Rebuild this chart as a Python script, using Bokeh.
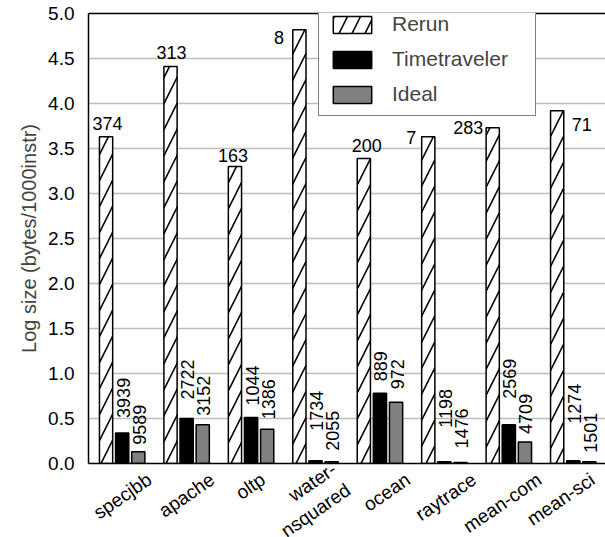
import math
import numpy as np
from bokeh.plotting import figure
from bokeh.models import (Range1d, FixedTicker, LinearAxis, ColumnDataSource,
                          Legend, LegendItem, PrintfTickFormatter)
from bokeh.core.properties import value
from bokeh.embed import file_html
from bokeh.resources import INLINE

# ---------------- data ----------------
categories = ["specjbb", "apache", "oltp", "water-\nnsquared", "ocean",
              "raytrace", "mean-com", "mean-sci"]
rerun = [3.63, 4.41, 3.30, 4.82, 3.39, 3.63, 3.73, 3.92]
timetraveler = [0.34, 0.50, 0.51, 0.03, 0.78, 0.02, 0.43, 0.03]
ideal = [0.13, 0.43, 0.38, 0.02, 0.68, 0.01, 0.24, 0.02]
rerun_labels = ["374", "313", "163", "8", "200", "7", "283", "71"]
tt_labels = ["3939", "2722", "1044", "1734", "889", "1198", "2569", "1274"]
ideal_labels = ["9589", "3152", "1386", "2055", "972", "1476", "4709", "1501"]
y_ticks = [0.0, 0.5, 1.0, 1.5, 2.0, 2.5, 3.0, 3.5, 4.0, 4.5, 5.0]

# ---------------- style ----------------
FONT = "Liberation Sans"
SLOTS = 4
BAR_W = 0.82
rerun_dx = [1.5, 1, -2, -15.5, 3, -12, -9.5, 14.5]
rerun_dy = [-13, -14, -11, 8, -13, 1, 0, 14]
rerun_align = ["center", "center", "center", "right", "center", "right", "right", "left"]
tt_gap = [15, 19, 12, 30, 12, 34, 26, 37]
ideal_gap = [7, 9, 10, 11, 13, 14, 8, 9]
label_anchor = [2.7, 2.6, 1.75, 2.6, 2.75, 2.85, 2.9, 2.2]

n = len(categories)
idx = np.arange(n)
x_rerun = idx * SLOTS + 0
x_tt = idx * SLOTS + 1
x_ideal = idx * SLOTS + 2

p = figure(frame_width=517, frame_height=450,
           x_range=Range1d(-1.09, SLOTS * n - 1), y_range=Range1d(0, 5),
           output_backend="svg", toolbar_location=None,
           min_border_left=88, min_border_right=0, min_border_top=13,
           min_border_bottom=74)
p.outline_line_color = None
p.background_fill_color = "white"

# grid
p.xgrid.grid_line_color = None
p.ygrid.grid_line_color = "#bdbdbd"
p.ygrid.grid_line_width = 1.5
p.ygrid.ticker = FixedTicker(ticks=y_ticks)

# y axis
p.yaxis.ticker = FixedTicker(ticks=y_ticks)
p.yaxis.formatter = PrintfTickFormatter(format="%.1f")
p.yaxis.axis_label = "Log size (bytes/1000instr)"
p.yaxis.axis_label_text_font = FONT
p.yaxis.axis_label_text_font_style = "normal"
p.yaxis.axis_label_text_font_size = "20px"
p.yaxis.major_label_text_font = FONT
p.yaxis.major_label_text_font_size = "19px"
p.yaxis.major_label_text_color = "black"
p.yaxis.axis_line_width = 1.5
p.yaxis.axis_line_color = "black"
p.yaxis.major_tick_line_color = None
p.yaxis.minor_tick_line_color = None
p.yaxis.major_label_standoff = 8

# x axis
ticks = [float(i * SLOTS + a) for i, a in zip(idx, label_anchor)]
p.xaxis.ticker = FixedTicker(ticks=ticks)
p.xaxis.major_label_overrides = {t: c for t, c in zip(ticks, categories)}
p.xaxis.major_label_orientation = 0.6
p.xaxis.major_label_text_font = FONT
p.xaxis.major_label_text_font_size = "19px"
p.xaxis.major_label_text_color = "black"
p.xaxis.axis_line_width = 1.5
p.xaxis.axis_line_color = "black"
p.xaxis.major_tick_line_color = None
p.xaxis.minor_tick_line_color = None
p.xaxis.major_tick_out = 0
p.xaxis.major_tick_in = 0
p.xaxis.major_label_standoff = 14

top_axis = LinearAxis(ticker=FixedTicker(ticks=[]), axis_line_width=1.5,
                      axis_line_color="black", major_tick_line_color=None,
                      minor_tick_line_color=None, major_label_text_font_size="0px")
p.add_layout(top_axis, "above")

# bars
r_rerun = p.vbar(x=x_rerun, top=rerun, width=BAR_W, fill_color="white",
                 line_color="black", line_width=1.5, hatch_pattern="/",
                 hatch_scale=26, hatch_weight=1.6, hatch_color="black")
r_tt = p.vbar(x=x_tt, top=timetraveler, width=BAR_W, fill_color="black",
              line_color="black", line_width=1.5)
r_ideal = p.vbar(x=x_ideal, top=ideal, width=BAR_W, fill_color="#808080",
                 line_color="black", line_width=1.5)

# rerun labels
for i in idx:
    p.text(x=[x_rerun[i]], y=[rerun[i]], text=[rerun_labels[i]],
           x_offset=rerun_dx[i], y_offset=rerun_dy[i],
           text_align=rerun_align[i], text_baseline="alphabetic",
           text_font=value(FONT), text_font_size="18px", text_color="black")

# vertical labels
src_tt = ColumnDataSource(dict(x=x_tt, y=timetraveler, t=tt_labels,
                               dy=[-g for g in tt_gap]))
src_id = ColumnDataSource(dict(x=x_ideal, y=ideal, t=ideal_labels,
                               dy=[-g for g in ideal_gap]))
for src in (src_tt, src_id):
    p.text(x="x", y="y", text="t", y_offset="dy", x_offset=1, source=src,
           angle=math.pi / 2, text_align="left", text_baseline="middle",
           text_font=value(FONT), text_font_size="18px", text_color="black")

# legend
legend = Legend(items=[LegendItem(label="Rerun", renderers=[r_rerun]),
                       LegendItem(label="Timetraveler", renderers=[r_tt]),
                       LegendItem(label="Ideal", renderers=[r_ideal])],
                location=(230, 347), orientation="vertical")
legend.glyph_width = 48
legend.glyph_height = 21
legend.label_height = 21
legend.spacing = 11
legend.padding = 9
legend.label_standoff = 16
legend.label_width = 134
legend.label_text_font = FONT
legend.label_text_font_size = "21px"
legend.label_text_baseline = "middle"
legend.border_line_color = "black"
legend.border_line_width = 1.5
legend.background_fill_alpha = 1.0
legend.background_fill_color = "white"
legend.margin = 0
p.add_layout(legend, "center")

open("out.html", "w").write(file_html(p, INLINE))
